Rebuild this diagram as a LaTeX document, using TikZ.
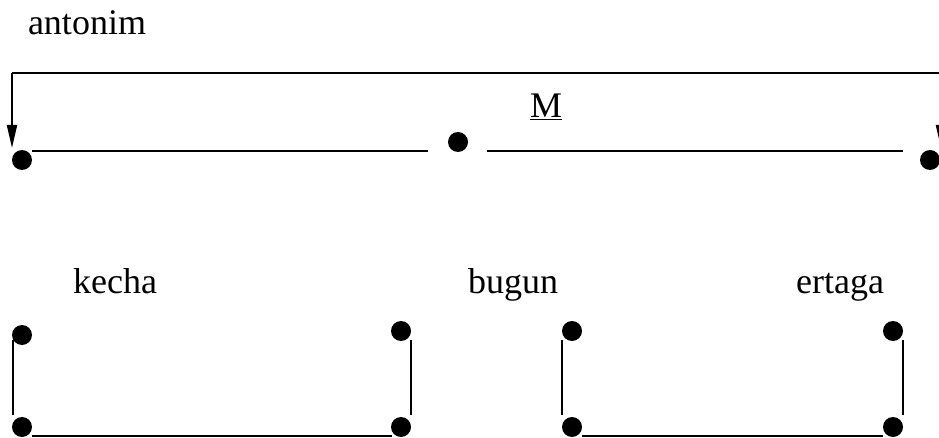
\documentclass[tikz,border=0pt]{standalone}
\usepackage{fontspec}
\setmainfont{Liberation Serif}
\usetikzlibrary{arrows.meta,calc}
\begin{document}
\begin{tikzpicture}[x=1pt,y=-1pt,
  dot/.style={circle,fill=black,inner sep=0pt,minimum size=20pt},
  lbl/.style={anchor=base,inner sep=0pt,font=\fontsize{36}{40}\selectfont},
  thick line/.style={line width=2pt},
  thin line/.style={line width=1.5pt},
  arr/.style={line width=2pt,-{Triangle[length=23pt,width=10pt]}}]
\useasboundingbox (0,0) rectangle (939,438);
% labels
\node[lbl] (antonim) at (87,35) {antonim};
\node[lbl] (M) at (546,118) {\underline{M}};
\node[lbl] (kecha) at (115,293) {kecha};
\node[lbl] (bugun) at (513,293) {bugun};
\node[lbl] (ertaga) at (840,293) {ertaga};
% top dots
\node[dot] (d1) at (22,160) {};
\node[dot] (d2) at (458,142) {};
\node[dot] (d3) at (930,160) {};
% frame
\coordinate (tl) at (12,73);
\coordinate (tr) at (941,73);
\coordinate (al) at (12,148);
\coordinate (ar) at (941,148);
\draw[thick line] (al |- tl) -- (tr);
\draw[arr] (tl) -- (al);
\draw[arr] (tr) -- (ar);
% top lines
\draw[thick line] ($(d1.east)+(0,-9)$) -- ($(d2.center)+(-30,9)$);
\draw[thick line] ($(d2.center)+(29,9)$) -- ($(d3.center)+(-27,-9)$);
% bottom left bracket
\node[dot] (a1) at (22,335) {};
\node[dot] (a2) at (22,427) {};
\node[dot] (a3) at (401,331) {};
\node[dot] (a4) at (401,427) {};
\draw[thin line] ($(a1.center)+(-9,5)$) -- ($(a2.center)+(-9,-12)$);
\draw[thin line] ($(a2.center)+(10,9)$) -- ($(a4.center)+(-9,9)$);
\draw[thin line] ($(a3.center)+(10,9)$) -- ($(a4.center)+(10,-12)$);
% bottom right bracket
\node[dot] (b1) at (572,331) {};
\node[dot] (b2) at (572,427) {};
\node[dot] (b3) at (893,331) {};
\node[dot] (b4) at (893,427) {};
\draw[thin line] ($(b1.center)+(-10,9)$) -- ($(b2.center)+(-10,-12)$);
\draw[thin line] ($(b2.center)+(10,9)$) -- ($(b4.center)+(-10,9)$);
\draw[thin line] ($(b3.center)+(10,9)$) -- ($(b4.center)+(10,-12)$);
\end{tikzpicture}
\end{document}
